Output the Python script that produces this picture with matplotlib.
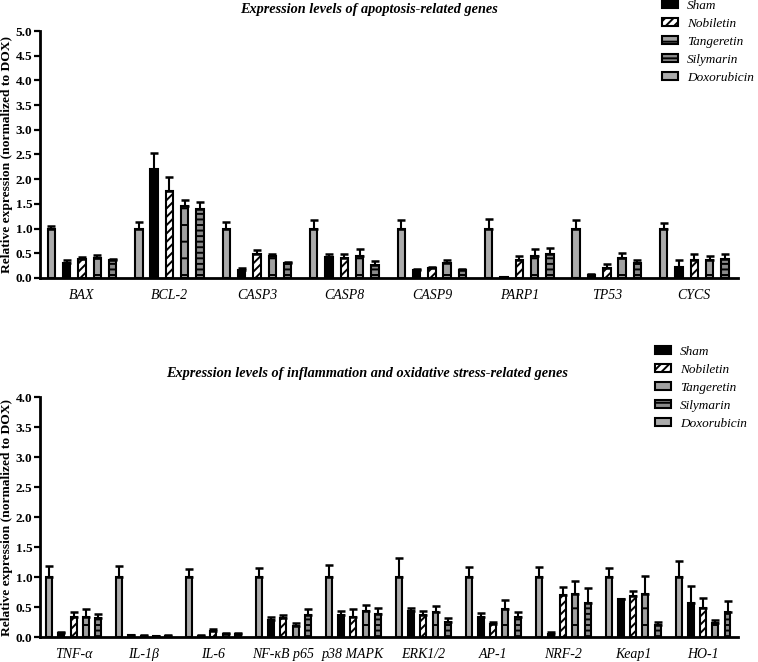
import matplotlib
matplotlib.use("Agg")
import matplotlib.pyplot as plt
import numpy as np
from matplotlib.patches import Patch

plt.rcParams['font.family'] = ['Liberation Serif', 'DejaVu Serif']
plt.rcParams['hatch.linewidth'] = 1.4

groups = ['Doxorubicin', 'Sham', 'Nobiletin', 'Tangeretin', 'Silymarin']
legend_order = ['Sham', 'Nobiletin', 'Tangeretin', 'Silymarin', 'Doxorubicin']

genes_top = ['BAX', 'BCL-2', 'CASP3', 'CASP8', 'CASP9', 'PARP1', 'TP53', 'CYCS']
dox_top = [1.0, 1.0, 1.0, 1.0, 1.0, 1.0, 1.0, 1.0]
dox_top_err = [0.05, 0.13, 0.13, 0.18, 0.18, 0.19, 0.17, 0.12]
sham_top = [0.31, 2.21, 0.16, 0.43, 0.17, 0.02, 0.06, 0.23]
sham_top_err = [0.06, 0.32, 0.04, 0.06, 0.02, 0.01, 0.03, 0.14]
nob_top = [0.38, 1.76, 0.48, 0.41, 0.20, 0.36, 0.21, 0.36]
nob_top_err = [0.05, 0.28, 0.08, 0.07, 0.03, 0.09, 0.07, 0.12]
tang_top = [0.41, 1.45, 0.44, 0.45, 0.30, 0.45, 0.41, 0.36]
tang_top_err = [0.05, 0.12, 0.04, 0.13, 0.07, 0.13, 0.10, 0.09]
sily_top = [0.36, 1.40, 0.31, 0.26, 0.16, 0.48, 0.30, 0.38]
sily_top_err = [0.03, 0.13, 0.02, 0.09, 0.02, 0.13, 0.07, 0.11]

genes_bot = ['TNF-α', 'IL-1β', 'IL-6', 'NF-κB p65', 'p38 MAPK', 'ERK1/2',
             'AP-1', 'NRF-2', 'Keap1', 'HO-1']
dox_bot = [1.0] * 10
dox_bot_err = [0.19, 0.18, 0.13, 0.15, 0.20, 0.31, 0.17, 0.16, 0.15, 0.26]
sham_bot = [0.07, 0.03, 0.02, 0.28, 0.37, 0.43, 0.33, 0.05, 0.63, 0.57]
sham_bot_err = [0.02, 0.01, 0.01, 0.06, 0.06, 0.05, 0.07, 0.03, 0.01, 0.28]
nob_bot = [0.33, 0.02, 0.10, 0.31, 0.34, 0.36, 0.21, 0.70, 0.69, 0.48]
nob_bot_err = [0.09, 0.01, 0.04, 0.06, 0.13, 0.08, 0.04, 0.13, 0.08, 0.17]
tang_bot = [0.33, 0.01, 0.05, 0.19, 0.43, 0.42, 0.46, 0.72, 0.72, 0.23]
tang_bot_err = [0.13, 0.005, 0.01, 0.04, 0.11, 0.09, 0.15, 0.22, 0.30, 0.05]
sily_bot = [0.31, 0.02, 0.05, 0.37, 0.39, 0.25, 0.34, 0.57, 0.20, 0.42]
sily_bot_err = [0.07, 0.01, 0.01, 0.09, 0.10, 0.06, 0.08, 0.25, 0.05, 0.18]

styles = {
    'Doxorubicin': dict(facecolor='#ababab', hatch=None),
    'Sham': dict(facecolor='black', hatch=None),
    'Nobiletin': dict(facecolor='white', hatch='////'),
    'Tangeretin': dict(facecolor='#a0a0a0', hatch='-'),
    'Silymarin': dict(facecolor='#8a8a8a', hatch='---'),
}

fig = plt.figure(figsize=(7.58, 6.62), dpi=100)
W, H = 758, 662


def panel(rect, genes, vals, errs, ymax, title, title_xy, leg_xy):
    ax = fig.add_axes(rect)
    x = np.arange(len(genes))
    off = 0.175
    w = 0.085
    for k, g in enumerate(groups):
        pos = x + (k - 2) * off
        ax.bar(pos, vals[k], width=w, edgecolor='black', linewidth=1.5,
               zorder=2, **styles[g])
        ax.errorbar(pos, vals[k], yerr=[np.zeros(len(genes)), errs[k]],
                    fmt='none', ecolor='black', elinewidth=1.5, capsize=3,
                    capthick=1.8, zorder=3)
    ax.set_xlim(-0.48, len(genes) - 0.5)
    ax.set_ylim(0, ymax)
    ax.set_yticks(np.arange(0, ymax + 0.01, 0.5))
    ax.set_yticklabels([f'{v:.1f}' for v in np.arange(0, ymax + 0.01, 0.5)],
                       fontweight='bold', fontsize=9.5)
    ax.set_xticks(x)
    ax.set_xticklabels(genes, fontstyle='italic', fontsize=10)
    ax.tick_params(axis='x', length=0, pad=8)
    ax.tick_params(axis='y', length=4, width=1.6, pad=1.5)
    for s in ['top', 'right']:
        ax.spines[s].set_visible(False)
    for s in ['left', 'bottom']:
        ax.spines[s].set_linewidth(2.0)
    ax.set_ylabel('Relative expression (normalized to DOX)', fontweight='bold',
                  fontsize=9.7, labelpad=2)
    fig.text(title_xy[0] / W, 1 - title_xy[1] / H, title, ha='center', va='center',
             fontweight='bold', fontstyle='italic', fontsize=10.3)
    handles = [Patch(edgecolor='black', linewidth=1.5, **styles[g], label=g)
               for g in legend_order]
    fig.legend(handles=handles, loc='upper left',
               bbox_to_anchor=(leg_xy[0] / W, 1 - leg_xy[1] / H),
               frameon=False, prop={'style': 'italic', 'size': 9.5},
               handlelength=1.2, handleheight=0.55, handletextpad=0.7,
               labelspacing=0.45, borderpad=0, borderaxespad=0)
    return ax


panel([40 / W, 1 - 278 / H, 698 / W, 247 / H], genes_top,
      [dox_top, sham_top, nob_top, tang_top, sily_top],
      [dox_top_err, sham_top_err, nob_top_err, tang_top_err, sily_top_err],
      5.0, 'Expression levels of apoptosis-related genes', (369, 9), (662, 0))

panel([40 / W, 1 - 637 / H, 698 / W, 240 / H], genes_bot,
      [dox_bot, sham_bot, nob_bot, tang_bot, sily_bot],
      [dox_bot_err, sham_bot_err, nob_bot_err, tang_bot_err, sily_bot_err],
      4.0, 'Expression levels of inflammation and oxidative stress-related genes',
      (367, 373), (655, 346))

fig.savefig('out.png', dpi=100)
